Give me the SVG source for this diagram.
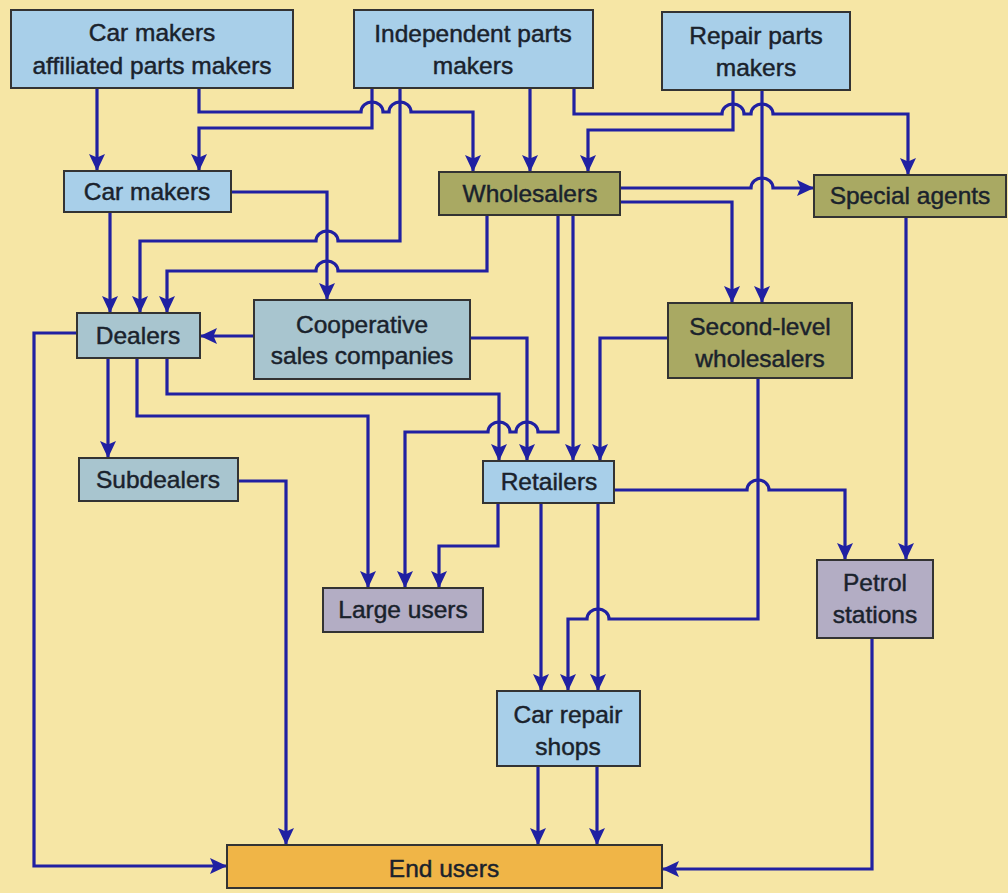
<svg xmlns="http://www.w3.org/2000/svg" width="1008" height="893" viewBox="0 0 1008 893">
  <defs>
    <marker id="arrow" markerUnits="userSpaceOnUse" markerWidth="18" markerHeight="16" refX="17" refY="8" orient="auto">
      <path d="M0,0 L17,8 L0,16 L3.5,8 Z" fill="#2020a2"/>
    </marker>
  </defs>
  <style>
    .box { stroke: #333333; stroke-width: 2; }
    .blue { fill: #a8cfe9; }
    .olive { fill: #a9a963; }
    .steel { fill: #a8c5cf; }
    .lilac { fill: #b3adc4; }
    .orange { fill: #f0b547; }
    .lbl { font-family: "Liberation Sans", Arial, sans-serif; font-size: 24.5px; fill: #1a222c; stroke: #1a222c; stroke-width: 0.45; text-anchor: middle; }
    .wire { fill: none; stroke: #2020a2; stroke-width: 3.2; stroke-linejoin: miter; }
    .wire.to { marker-end: url(#arrow); }
  </style>

  <rect x="0" y="0" width="1008" height="893" fill="#f6e6a5"/>

  <!-- connectors -->
  <g id="connectors">
    <path class="wire to" d="M97,88 V171"/>
    <path class="wire to" d="M199,88 V112 H361 A11 10 0 0 1 383 112 H389 A11 10 0 0 1 411 112 H473 V172"/>
    <path class="wire to" d="M372,88 V128 H199 V171"/>
    <path class="wire to" d="M400,88 V241 H338 A11 10 0 0 0 316 241 H140 V313"/>
    <path class="wire to" d="M487,215 V271 H338 A11 10 0 0 0 316 271 H167 V313"/>
    <path class="wire to" d="M110,212 V313"/>
    <path class="wire to" d="M231,192 H327 V300"/>
    <path class="wire to" d="M530,88 V172"/>
    <path class="wire to" d="M574,88 V114 H722 A11 10 0 0 1 744 114 H751 A11 10 0 0 1 773 114 H908 V175"/>
    <path class="wire to" d="M733,90 V130 H588 V172"/>
    <path class="wire to" d="M762,90 V303"/>
    <path class="wire to" d="M620,188 H751 A11 10 0 0 1 773 188 H814"/>
    <path class="wire to" d="M620,202 H732 V303"/>
    <path class="wire to" d="M558,215 V432 H538 A11 10 0 0 0 516 432 H510 A11 10 0 0 0 488 432 H405 V588"/>
    <path class="wire to" d="M573,215 V461"/>
    <path class="wire to" d="M668,338 H600 V461"/>
    <path class="wire to" d="M470,338 H527 V461"/>
    <path class="wire to" d="M254,336 H200"/>
    <path class="wire to" d="M167,358 V394 H499 V461"/>
    <path class="wire to" d="M137,358 V416 H368 V588"/>
    <path class="wire to" d="M108,358 V458"/>
    <path class="wire to" d="M77,333 H34 V866 H227"/>
    <path class="wire to" d="M238,481 H286 V845"/>
    <path class="wire to" d="M498,503 V546 H439 V588"/>
    <path class="wire to" d="M541,503 V691"/>
    <path class="wire to" d="M598,503 V691"/>
    <path class="wire to" d="M614,490 H747 A11 10 0 0 1 769 490 H845 V560"/>
    <path class="wire to" d="M758,378 V619 H609 A11 10 0 0 0 587 619 H568 V691"/>
    <path class="wire to" d="M906,217 V560"/>
    <path class="wire to" d="M872,638 V869 H662"/>
    <path class="wire to" d="M538,766 V845"/>
    <path class="wire to" d="M597,766 V845"/>
  </g>

  <!-- nodes -->
  <g id="affiliated-parts-makers">
    <rect class="box blue" x="11" y="10" width="282" height="78"/>
    <text class="lbl" x="152" y="41">Car makers</text>
    <text class="lbl" x="152" y="74">affiliated parts makers</text>
  </g>
  <g id="independent-parts-makers">
    <rect class="box blue" x="354" y="10" width="239" height="78"/>
    <text class="lbl" x="473" y="42">Independent parts</text>
    <text class="lbl" x="473" y="74">makers</text>
  </g>
  <g id="repair-parts-makers">
    <rect class="box blue" x="662" y="12" width="188" height="78"/>
    <text class="lbl" x="756" y="44">Repair parts</text>
    <text class="lbl" x="756" y="76">makers</text>
  </g>
  <g id="car-makers">
    <rect class="box blue" x="64" y="171" width="167" height="41"/>
    <text class="lbl" x="147" y="200">Car makers</text>
  </g>
  <g id="wholesalers">
    <rect class="box olive" x="439" y="172" width="181" height="43"/>
    <text class="lbl" x="530" y="202">Wholesalers</text>
  </g>
  <g id="special-agents">
    <rect class="box olive" x="814" y="175" width="192" height="42"/>
    <text class="lbl" x="910" y="204">Special agents</text>
  </g>
  <g id="dealers">
    <rect class="box steel" x="77" y="313" width="123" height="45"/>
    <text class="lbl" x="138" y="344">Dealers</text>
  </g>
  <g id="cooperative-sales-companies">
    <rect class="box steel" x="254" y="300" width="216" height="79"/>
    <text class="lbl" x="362" y="333">Cooperative</text>
    <text class="lbl" x="362" y="364">sales companies</text>
  </g>
  <g id="second-level-wholesalers">
    <rect class="box olive" x="668" y="303" width="184" height="75"/>
    <text class="lbl" x="760" y="335">Second-level</text>
    <text class="lbl" x="760" y="367">wholesalers</text>
  </g>
  <g id="subdealers">
    <rect class="box steel" x="79" y="458" width="159" height="43"/>
    <text class="lbl" x="158" y="488">Subdealers</text>
  </g>
  <g id="retailers">
    <rect class="box blue" x="483" y="461" width="131" height="42"/>
    <text class="lbl" x="549" y="490">Retailers</text>
  </g>
  <g id="large-users">
    <rect class="box lilac" x="323" y="588" width="160" height="44"/>
    <text class="lbl" x="403" y="618">Large users</text>
  </g>
  <g id="petrol-stations">
    <rect class="box lilac" x="817" y="560" width="116" height="78"/>
    <text class="lbl" x="875" y="591">Petrol</text>
    <text class="lbl" x="875" y="623">stations</text>
  </g>
  <g id="car-repair-shops">
    <rect class="box blue" x="497" y="691" width="143" height="75"/>
    <text class="lbl" x="568" y="723">Car repair</text>
    <text class="lbl" x="568" y="755">shops</text>
  </g>
  <g id="end-users">
    <rect class="box orange" x="227" y="845" width="435" height="43"/>
    <text class="lbl" x="444" y="877">End users</text>
  </g>
</svg>
